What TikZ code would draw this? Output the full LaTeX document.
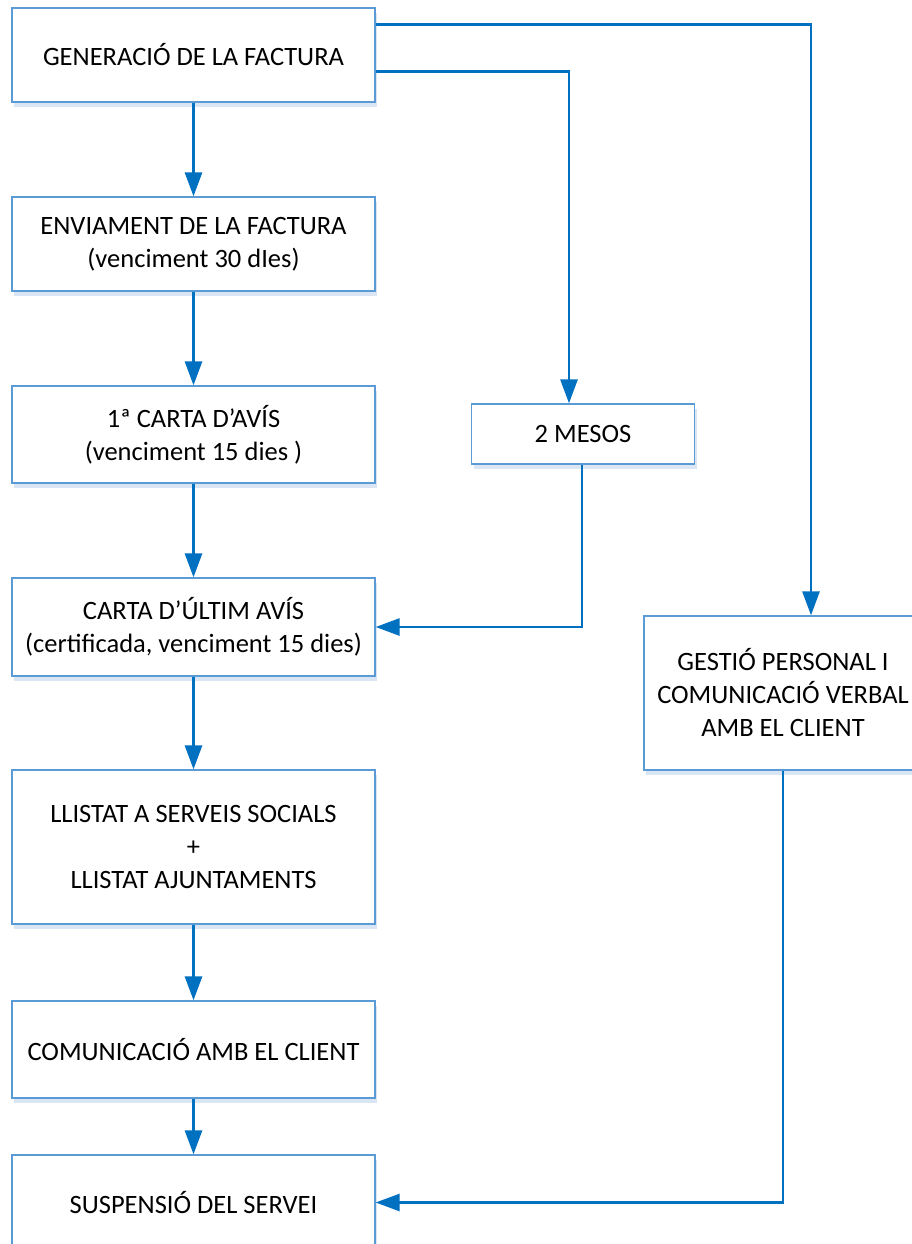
\documentclass[tikz,border=0pt]{standalone}
\usepackage{fontspec}
\setmainfont{Carlito}
\usetikzlibrary{arrows.meta,shadows,calc}
\definecolor{boxline}{HTML}{5B9BD5}
\definecolor{connc}{HTML}{0070C0}
\definecolor{shadc}{HTML}{DAE6F4}
\begin{document}
\begin{tikzpicture}[x=1pt,y=-1pt,
  box/.style={draw=boxline,line width=1.3pt,fill=white,align=center,
    font=\fontsize{26.5}{33}\selectfont,inner sep=0pt,
    drop shadow={shadow xshift=2pt,shadow yshift=-5pt,fill=shadc,opacity=1}},
  conn/.style={draw=connc,line width=2.8pt,-{Triangle[length=24pt,width=17pt]}}]
\useasboundingbox[fill=white] (0,0) rectangle (912,1244);
\node[box,minimum width=363pt,minimum height=94pt] (b1) at (193.5,55) {GENERACIÓ DE LA FACTURA};
\node[box,minimum width=363pt,minimum height=94pt] (b2) at (193.5,244) {ENVIAMENT DE LA FACTURA\\(venciment 30 dIes)};
\node[box,minimum width=363pt,minimum height=97pt] (b3) at (193.5,434.5) {1ª CARTA D’AVÍS\\(venciment 15 dies )};
\node[box,minimum width=363pt,minimum height=98pt] (b4) at (193.5,627) {CARTA D’ÚLTIM AVÍS\\(certificada, venciment 15 dies)};
\node[box,minimum width=363pt,minimum height=154pt] (b5) at (193.5,847) {LLISTAT A SERVEIS SOCIALS\\+\\LLISTAT AJUNTAMENTS};
\node[box,minimum width=363pt,minimum height=97pt] (b6) at (193.5,1049.5) {COMUNICACIÓ AMB EL CLIENT};
\node[box,minimum width=363pt,minimum height=95pt] (b7) at (193.5,1202.5) {SUSPENSIÓ DEL SERVEI};
\node[box,minimum width=223pt,minimum height=60pt] (mesos) at (583,434) {2 MESOS};
\node[box,minimum width=278pt,minimum height=154pt] (gest) at (783,693) {GESTIÓ PERSONAL I\\COMUNICACIÓ VERBAL\\AMB EL CLIENT};
\draw[conn] (b1) -- (b2);
\draw[conn] (b2) -- (b3);
\draw[conn] (b3) -- (b4);
\draw[conn] (b4) -- (b5);
\draw[conn] (b5) -- (b6);
\draw[conn] (b6) -- (b7);
\draw[conn] ([yshift=-17pt]b1.north east) -| ([xshift=28pt]gest.north);
\draw[conn] ([yshift=-64pt]b1.north east) -| ([xshift=-14pt]mesos.north);
\draw[conn] ([xshift=-1pt]mesos.south) |- (b4.east);
\draw[conn] (gest.south) |- (b7.east);
\end{tikzpicture}
\end{document}
